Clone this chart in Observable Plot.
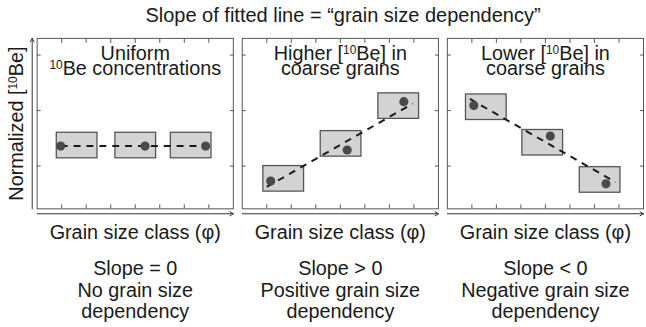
<!DOCTYPE html>
<html><head><meta charset="utf-8">
<script src="https://cdn.jsdelivr.net/npm/d3@7"></script>
<script src="https://cdn.jsdelivr.net/npm/@observablehq/plot@0.6"></script>
<style>
body{margin:0;background:#fff;font-family:"Liberation Sans",Arial,sans-serif;color:#1a1a1a}
#wrap{width:646px;height:327px;overflow:hidden;position:relative}
#title{width:612px;padding-left:37px;height:28px;line-height:30px;font-size:20px;text-align:center;white-space:nowrap}
</style></head><body><div id="wrap"><div id="title"></div><div id="chart"></div></div>
<script>
// ---- data ----
const titleText = "Slope of fitted line = “grain size dependency”";
const yLabel = "Normalized [¹⁰Be]";
const xLabel = "Grain size class (φ)";
const panels = ["uniform", "higher", "lower"];
const panelTitles = ["Uniform\n¹⁰Be concentrations", "Higher [¹⁰Be] in\ncoarse grains", "Lower [¹⁰Be] in\ncoarse grains"];
const slopeLabels = ["Slope = 0\nNo grain size\ndependency", "Slope > 0\nPositive grain size\ndependency", "Slope < 0\nNegative grain size\ndependency"];
const xTicks = [1, 2, 3, 4, 5, 6, 7];
const yTicks = [1, 2, 3];
const xDomain = [0, 8];
const yDomain = [0.23, 3.30];
// grain-size boxes (centre x, centre y) per panel
const boxCenterX = [[1.63, 4.02, 6.28], [1.69, 4.03, 6.38], [1.59, 3.89, 6.23]];
const boxCenterY = [[1.37, 1.37, 1.37], [0.77, 1.40, 2.08], [2.06, 1.42, 0.75]];
const boxHalfWidth = 0.83;
const boxHalfHeight = 0.23;
// measured points per panel
const pointX = [[0.96, 4.40, 6.87], [1.16, 4.28, 6.59], [1.08, 4.20, 6.47]];
const pointY = [[1.36, 1.36, 1.36], [0.73, 1.29, 2.16], [2.09, 1.54, 0.68]];
// fitted line endpoints per panel
const fitX1 = [0.96, 1.00, 0.92];
const fitY1 = [1.36, 0.625, 2.21];
const fitX2 = [6.87, 6.95, 6.86];
const fitY2 = [1.36, 2.125, 0.71];

// ---- tables built from the arrays ----
const panelRows = panels.map((p, i) => ({panel: p, title: panelTitles[i], slope: slopeLabels[i]}));
const boxes = panels.flatMap((p, i) => boxCenterX[i].map((cx, j) => ({
  panel: p, x1: cx - boxHalfWidth, x2: cx + boxHalfWidth,
  y1: boxCenterY[i][j] - boxHalfHeight, y2: boxCenterY[i][j] + boxHalfHeight})));
const points = panels.flatMap((p, i) => pointX[i].map((x, j) => ({panel: p, x, y: pointY[i][j]})));
const fits = panels.map((p, i) => ({panel: p, x1: fitX1[i], y1: fitY1[i], x2: fitX2[i], y2: fitY2[i]}));

document.getElementById("title").textContent = titleText;

const axisStyle = {tickSize: -4, fill: null, label: null, stroke: "#555", facetAnchor: null};

const chart = Plot.plot({
  width: 652, height: 299,
  marginLeft: 37, marginRight: 3, marginTop: 10, marginBottom: 117,
  x: {domain: xDomain, axis: null},
  y: {domain: yDomain, axis: null},
  fx: {domain: panels, axis: null, paddingInner: 9 / 207, paddingOuter: 0},
  style: {fontFamily: "'Liberation Sans', Arial, sans-serif", fontSize: "20px", color: "#1a1a1a", background: "white", overflow: "visible"},
  marks: [
    Plot.frame({stroke: "#555"}),
    Plot.axisX(xTicks, {anchor: "bottom", ...axisStyle}),
    Plot.axisX(xTicks, {anchor: "top", ...axisStyle}),
    Plot.axisY(yTicks, {anchor: "left", ...axisStyle}),
    Plot.axisY(yTicks, {anchor: "right", ...axisStyle}),
    Plot.rect(boxes, {fx: "panel", x1: "x1", x2: "x2", y1: "y1", y2: "y2", fill: "#d3d3d3", stroke: "#555", strokeWidth: 1.3}),
    Plot.link(fits, {fx: "panel", x1: "x1", y1: "y1", x2: "x2", y2: "y2", stroke: "#1a1a1a", strokeWidth: 2, strokeDasharray: "7,6"}),
    Plot.dot(points, {fx: "panel", x: "x", y: "y", r: 4.6, fill: "#4a4a4a"}),
    Plot.arrow(panelRows, {fx: "panel", x1: () => xDomain[0], x2: () => xDomain[1], y1: () => yDomain[0], y2: () => yDomain[0], dy: 5, stroke: "#333", strokeWidth: 1, headLength: 6}),
    Plot.arrow([panels[0]], {fx: d => d, x1: () => xDomain[0], x2: () => xDomain[0], y1: () => yDomain[0], y2: () => yDomain[1], dx: -5, stroke: "#333", strokeWidth: 1, headLength: 6}),
    Plot.text(panelRows, {fx: "panel", text: "title", frameAnchor: "top", lineAnchor: "top", dy: 10, lineHeight: 0.8, fontSize: 20, fill: "#1a1a1a"}),
    Plot.text(panelRows, {fx: "panel", text: () => xLabel, frameAnchor: "bottom", lineAnchor: "top", dy: 16, fontSize: 20, fill: "#1a1a1a"}),
    Plot.text(panelRows, {fx: "panel", text: "slope", frameAnchor: "bottom", lineAnchor: "top", dy: 51, lineHeight: 1.1, fontSize: 20, fill: "#1a1a1a"}),
    Plot.text([yLabel], {fx: () => panels[0], text: d => d, frameAnchor: "left", textAnchor: "middle", dx: -21, rotate: -90, fontSize: 20, fill: "#1a1a1a"})
  ]
});

// render the "¹⁰" isotope prefix as a real superscript of matching size
const SUP = "¹⁰";
const walker = document.createTreeWalker(chart, NodeFilter.SHOW_TEXT);
const targets = [];
while (walker.nextNode()) if (walker.currentNode.nodeValue.includes(SUP)) targets.push(walker.currentNode);
for (const node of targets) {
  const [before, after] = node.nodeValue.split(SUP);
  const parent = node.parentNode;
  const sup = document.createElementNS("http://www.w3.org/2000/svg", "tspan");
  sup.setAttribute("font-size", "12");
  sup.setAttribute("baseline-shift", "6");
  sup.textContent = "10";
  parent.insertBefore(document.createTextNode(before), node);
  parent.insertBefore(sup, node);
  parent.insertBefore(document.createTextNode(after), node);
  parent.removeChild(node);
}
document.getElementById("chart").appendChild(chart);
</script></body></html>
